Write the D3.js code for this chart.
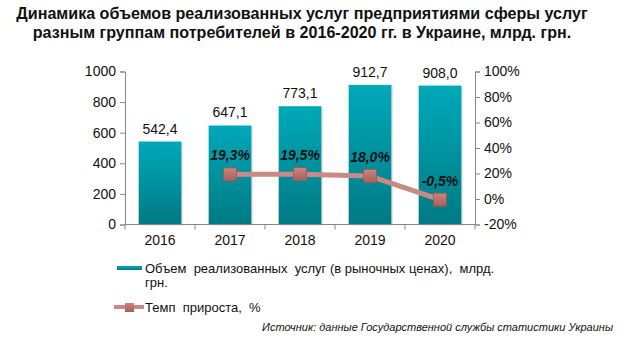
<!DOCTYPE html>
<html><head><meta charset="utf-8">
<script src="https://cdn.jsdelivr.net/npm/d3@7"></script>
<style>body{margin:0;background:#fff}svg{display:block;font-family:Arial,"Liberation Sans",sans-serif}</style>
</head><body>
<svg id="c" width="643" height="340"></svg>
<script>
const title = ["Динамика объемов реализованных услуг предприятиями сферы услуг",
               "разным группам потребителей в 2016-2020 гг. в Украине, млрд. грн."];
const years = ["2016","2017","2018","2019","2020"];
const volume = [542.4, 647.1, 773.1, 912.7, 908.0];
const growth = [null, 19.3, 19.5, 18.0, -0.5];
const leftTicks = [0,200,400,600,800,1000];
const rightTicks = [-20,0,20,40,60,80,100];
const legendLabels = ["Объем  реализованных  услуг (в рыночных ценах),  млрд.", "грн.", "Темп  прироста,  %"];
const source = "Источник: данные Государственной службы статистики Украины";

const svg = d3.select("#c");
const fmt = v => v.toFixed(1).replace(".", ",");

const defs = svg.append("defs");
const g1 = defs.append("linearGradient").attr("id","bar").attr("x1",0).attr("y1",0).attr("x2",0).attr("y2",1);
g1.append("stop").attr("offset","0%").attr("stop-color","#00a9b9");
g1.append("stop").attr("offset","100%").attr("stop-color","#007a84");
const g2 = defs.append("linearGradient").attr("id","mk").attr("x1",0).attr("y1",0).attr("x2",0).attr("y2",1);
g2.append("stop").attr("offset","0%").attr("stop-color","#c98580");
g2.append("stop").attr("offset","100%").attr("stop-color","#a8605a");

// title
svg.append("g").selectAll("text").data(title).join("text")
  .attr("x", 302).attr("y",(d,i)=>19+i*19).attr("text-anchor","middle")
  .attr("font-weight","bold").attr("font-size",16.1).attr("fill","#111").text(d=>d);

const L = 125, R = 475, T = 71.5, B = 224.5;
const x = d3.scaleBand().domain(years).range([L,R]).paddingInner(0.39).paddingOuter(0.195);
const xb = d3.scaleBand().domain(years).range([L,R]);
const yL = d3.scaleLinear().domain([0,1000]).range([B,T]);
const yR = d3.scaleLinear().domain([-20,100]).range([B,T]);

// axes
const axL = svg.append("g").attr("transform",`translate(${L},0)`)
  .call(d3.axisLeft(yL).tickValues(leftTicks).tickSize(5).tickPadding(4).tickFormat(d3.format("d")));
const axR = svg.append("g").attr("transform",`translate(${R},0)`)
  .call(d3.axisRight(yR).tickValues(rightTicks).tickSize(5).tickPadding(4).tickFormat(d=>d+"%"));
[axL,axR].forEach(a=>{a.select(".domain").attr("stroke","#888");a.selectAll(".tick line").attr("stroke","#888");
  a.selectAll("text").attr("font-size",14).attr("fill","#111").attr("font-family","Arial,'Liberation Sans',sans-serif");});

// bars
svg.append("g").selectAll("rect").data(years).join("rect")
  .attr("x",d=>x(d)+1.5).attr("y",(d,i)=>yL(volume[i])+1).attr("width",x.bandwidth()).attr("height",(d,i)=>B-yL(volume[i]))
  .attr("fill","#ccc").attr("opacity",0.6);
svg.append("g").selectAll("rect").data(years).join("rect")
  .attr("x",d=>x(d)).attr("y",(d,i)=>yL(volume[i])).attr("width",x.bandwidth()).attr("height",(d,i)=>B-yL(volume[i]))
  .attr("fill","url(#bar)");

// x axis
const axX = svg.append("g").attr("transform",`translate(0,${B})`);
axX.append("line").attr("x1",L).attr("x2",R).attr("stroke","#888");
axX.selectAll("line.t").data(d3.range(years.length+1)).join("line").attr("class","t")
  .attr("x1",i=>L+i*xb.step()).attr("x2",i=>L+i*xb.step()).attr("y1",0).attr("y2",5).attr("stroke","#888");
axX.selectAll("text").data(years).join("text")
  .attr("x",d=>xb(d)+xb.bandwidth()/2).attr("y",20).attr("text-anchor","middle").attr("font-size",14).attr("fill","#111").text(d=>d);

// bar labels
svg.append("g").selectAll("text").data(years).join("text")
  .attr("x",d=>x(d)+x.bandwidth()/2).attr("y",(d,i)=>yL(volume[i])-8).attr("text-anchor","middle")
  .attr("font-size",14).attr("fill","#111").text((d,i)=>fmt(volume[i]));

// growth line
const pts = years.map((d,i)=>({d,v:growth[i]})).filter(p=>p.v!==null);
const line = d3.line().x(p=>xb(p.d)+xb.bandwidth()/2).y(p=>yR(p.v));
svg.append("path").datum(pts).attr("d",line).attr("fill","none").attr("stroke","#c88a84").attr("stroke-width",5).attr("stroke-linejoin","round");
svg.append("g").selectAll("rect").data(pts).join("rect")
  .attr("x",p=>xb(p.d)+xb.bandwidth()/2-6.5).attr("y",p=>yR(p.v)-6.5).attr("width",13).attr("height",13)
  .attr("fill","url(#mk)").attr("stroke","#9c5852").attr("stroke-width",0.8);
svg.append("g").selectAll("text").data(pts).join("text")
  .attr("x",p=>xb(p.d)+xb.bandwidth()/2).attr("y",p=>yR(p.v)-14).attr("text-anchor","middle")
  .attr("font-size",14).attr("font-weight","bold").attr("font-style","italic").attr("fill","#111")
  .text(p=>fmt(p.v)+"%");

// legend
const lg = svg.append("g");
lg.append("rect").attr("x",117).attr("y",266).attr("width",25).attr("height",4).attr("fill","url(#bar)");
lg.append("text").attr("x",145).attr("y",273).attr("font-size",13).attr("fill","#111").attr("xml:space","preserve").text(legendLabels[0]);
lg.append("text").attr("x",145).attr("y",287).attr("font-size",13).attr("fill","#111").text(legendLabels[1]);
lg.append("line").attr("x1",114).attr("x2",144).attr("y1",307).attr("y2",307).attr("stroke","#c88a84").attr("stroke-width",4);
lg.append("rect").attr("x",125).attr("y",303).attr("width",9).attr("height",9).attr("fill","url(#mk)");
lg.append("text").attr("x",145).attr("y",311.5).attr("font-size",13).attr("fill","#111").attr("xml:space","preserve").text(legendLabels[2]);

svg.append("text").attr("x",613).attr("y",331).attr("text-anchor","end").attr("font-size",11)
  .attr("font-style","italic").attr("fill","#111").text(source);
</script>
</body></html>
